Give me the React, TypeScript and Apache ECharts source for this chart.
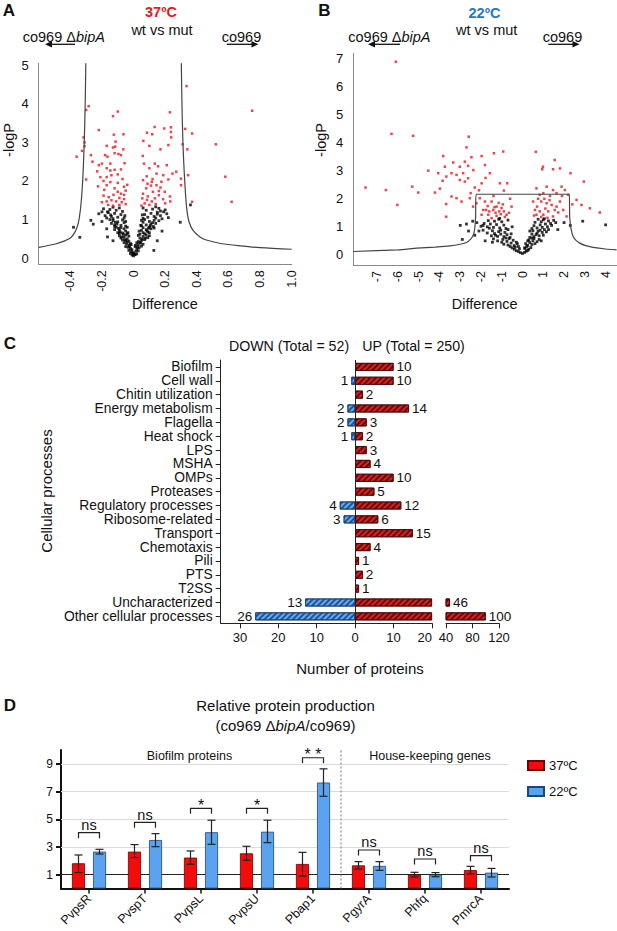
import React, { useEffect, useRef } from "react";
import * as echarts from "echarts";

const FONT = "'Liberation Sans', Arial, Helvetica, sans-serif";

// ---------- Panel A (37ºC volcano) ----------
const aTicksX = [-0.4, -0.2, 0, 0.2, 0.4, 0.6, 0.8, 1.0];
const aTicksY = [0, 1, 2, 3, 4, 5];
const aRed = [
  [0.335, 4.46], [-0.284, 3.94], [-0.3, 3.84], [-0.1, 3.8], [-0.13, 3.68], [0.23, 3.78], [0.75, 3.82], [-0.22, 3.32],
  [0.133, 3.4], [0.194, 3.36], [0.236, 3.39], [0.326, 3.35], [0.085, 3.25], [0.118, 3.21], [-0.064, 3.21], [-0.125, 3.2],
  [0.37, 3.23], [0.236, 3.27], [-0.316, 3.13], [0.238, 3.13], [0.062, 3.04], [-0.114, 3.02], [0.52, 2.95], [-0.31, 3.0],
  [-0.31, 2.9], [-0.17, 2.91], [-0.13, 2.87], [0.1, 2.91], [0.22, 2.93], [0.31, 2.95], [-0.065, 2.82], [0.17, 2.82], [0.34, 2.82],
  [-0.36, 2.63], [-0.326, 2.78], [-0.27, 2.67], [-0.116, 2.89], [-0.18, 2.67], [-0.165, 2.63], [-0.12, 2.72], [-0.096, 2.7],
  [-0.08, 2.67], [-0.22, 2.41], [-0.2, 2.45], [-0.3, 2.04], [-0.147, 2.45], [-0.057, 2.46], [-0.17, 2.33], [-0.147, 2.27],
  [-0.12, 2.29], [-0.21, 2.1], [-0.19, 2.0], [-0.17, 1.89], [-0.225, 1.86], [-0.1, 2.17], [-0.07, 2.05], [-0.147, 1.97],
  [-0.12, 1.81], [-0.06, 1.85], [-0.185, 1.77], [-0.127, 1.64], [-0.1, 1.72], [-0.06, 1.64], [-0.157, 1.58], [-0.09, 1.56],
  [-0.17, 1.47], [-0.11, 1.47], [-0.06, 1.53], [-0.14, 1.5], [-0.08, 1.67],
  [0.058, 2.65], [0.066, 2.45], [0.1, 2.33], [0.134, 2.45], [0.155, 2.38], [0.145, 2.19], [0.083, 2.12], [0.06, 2.02],
  [0.188, 2.15], [0.246, 2.19], [0.3, 2.06], [0.345, 2.15], [0.22, 2.04], [0.21, 2.41], [0.27, 2.24], [0.088, 1.93],
  [0.115, 1.98], [0.145, 1.89], [0.176, 1.98], [0.08, 1.81], [0.122, 1.72], [0.16, 1.74], [0.06, 1.67], [0.09, 1.6],
  [0.197, 1.72], [0.135, 1.55], [0.085, 1.51], [0.055, 1.55], [0.187, 1.53], [0.232, 1.47], [0.115, 1.47], [0.58, 2.11],
  [0.62, 1.46], [0.37, 1.46], [0.3, 1.89], [0.16, 1.63], [0.17, 1.83], [0.11, 1.88], [0.07, 1.42], [0.1, 1.38], [0.14, 1.4],
  [0.2, 1.42], [0.05, 1.36], [0.12, 2.05], [0.23, 1.6],
  [-0.05, 1.4], [-0.09, 1.38], [-0.13, 1.36], [-0.16, 1.38], [-0.2, 1.45], [-0.1, 1.95], [-0.05, 1.75], [-0.23, 2.25],
  [-0.26, 2.5], [-0.14, 2.15], [-0.08, 2.3], [-0.04, 1.9], [-0.17, 2.1], [-0.19, 1.62], [-0.075, 1.45],
];
const aBlack = [
  [0, 0.06], [-0.01, 0.08], [0.01, 0.09], [-0.02, 0.12], [0.02, 0.11], [0, 0.14], [-0.015, 0.17], [0.015, 0.18], [-0.03, 0.2],
  [0.03, 0.19], [0.005, 0.1], [-0.005, 0.13],
  [-0.02, 0.25], [-0.035, 0.28], [-0.05, 0.3], [-0.03, 0.34], [-0.045, 0.37], [-0.06, 0.4], [-0.02, 0.38], [0.02, 0.24],
  [0.035, 0.27], [0.05, 0.31], [0.03, 0.35], [0.06, 0.36], [0.045, 0.39], [0.02, 0.4], [-0.01, 0.22], [0.01, 0.3],
  [-0.03, 0.44], [-0.05, 0.45], [-0.07, 0.47], [-0.04, 0.5], [-0.08, 0.52], [-0.06, 0.55], [-0.09, 0.58], [-0.03, 0.57],
  [-0.05, 0.6], [0.03, 0.43], [0.05, 0.46], [0.07, 0.48], [0.04, 0.52], [0.09, 0.53], [0.06, 0.56], [0.08, 0.6], [0.03, 0.59], [0.1, 0.58],
  [-0.04, 0.63], [-0.07, 0.65], [-0.1, 0.66], [-0.05, 0.7], [-0.09, 0.72], [-0.12, 0.74], [-0.06, 0.76], [-0.08, 0.79],
  [-0.11, 0.8], [0.04, 0.62], [0.06, 0.66], [0.09, 0.68], [0.05, 0.72], [0.08, 0.74], [0.11, 0.76], [0.06, 0.79], [0.1, 0.8], [0.13, 0.78],
  [-0.05, 0.83], [-0.08, 0.85], [-0.12, 0.86], [-0.14, 0.9], [-0.06, 0.92], [-0.1, 0.94], [-0.13, 0.97], [-0.07, 0.99],
  [-0.15, 1.0], [0.05, 0.84], [0.08, 0.86], [0.11, 0.88], [0.14, 0.9], [0.06, 0.93], [0.1, 0.95], [0.13, 0.98], [0.07, 1.0], [0.16, 0.97],
  [-0.06, 1.04], [-0.1, 1.06], [-0.14, 1.08], [-0.18, 1.1], [-0.08, 1.13], [-0.12, 1.16], [-0.16, 1.18], [-0.07, 1.21],
  [-0.11, 1.24], [-0.15, 1.26], [-0.19, 1.28], [-0.09, 1.3], [0.06, 1.03], [0.09, 1.06], [0.13, 1.08], [0.17, 1.1], [0.07, 1.13],
  [0.11, 1.16], [0.15, 1.19], [0.19, 1.2], [0.08, 1.24], [0.12, 1.27], [0.16, 1.29], [0.06, 1.3], [0.2, 1.25],
  [-0.025, 0.3], [0.025, 0.29], [-0.04, 0.42], [0.04, 0.41], [-0.055, 0.48], [0.055, 0.49], [-0.065, 0.62], [0.07, 0.63],
  [-0.085, 0.68], [0.085, 0.71], [-0.095, 0.77], [0.095, 0.78], [-0.105, 0.88], [0.105, 0.84], [-0.115, 0.93], [0.12, 0.92],
  [-0.13, 1.02], [0.14, 1.04], [-0.145, 1.12], [0.15, 1.14], [-0.165, 1.2], [0.17, 1.22], [-0.13, 1.32], [0.14, 1.33],
  [-0.04, 0.8], [0.045, 0.85], [-0.035, 0.66], [0.035, 0.7], [-0.05, 0.95], [0.05, 0.98], [-0.055, 1.1], [0.055, 1.12],
  [-0.075, 0.55], [0.075, 0.52], [-0.015, 0.35], [0.012, 0.33], [-0.09, 0.64], [0.1, 0.66], [-0.12, 0.82], [0.125, 0.82],
  [-0.17, 1.04], [0.18, 1.02], [-0.2, 1.2], [0.21, 1.15],
  [-0.38, 0.8], [-0.34, 0.54], [-0.27, 0.98], [-0.255, 0.88], [0.295, 0.93], [0.36, 1.38], [0.128, 0.2], [-0.17, 0.76],
  [-0.165, 0.55], [-0.2, 0.95], [0.18, 0.7], [0.15, 0.45], [-0.13, 0.45], [0.22, 1.05], [-0.22, 1.15],
];
const aCurveLeft = [
  [-0.6, 0.28], [-0.5, 0.36], [-0.44, 0.44], [-0.4, 0.52], [-0.37, 0.68], [-0.35, 0.9], [-0.335, 1.3], [-0.322, 2.0],
  [-0.312, 3.0], [-0.306, 4.0], [-0.302, 5.05],
];
const aCurveRight = [
  [0.302, 5.05], [0.306, 4.0], [0.312, 3.0], [0.322, 2.1], [0.335, 1.33], [0.35, 0.95], [0.376, 0.72], [0.42, 0.55],
  [0.46, 0.47], [0.55, 0.38], [0.63, 0.34], [0.8, 0.27], [1.0, 0.23],
];

// ---------- Panel B (22ºC volcano) ----------
const bTicksX = [-7, -6, -5, -4, -3, -2, -1, 0, 1, 2, 3, 4];
const bTicksY = [0, 1, 2, 3, 4, 5, 6, 7];
const bRed = [
  [-6.1, 6.88], [-6.31, 4.31], [-5.27, 4.24], [-2.59, 4.21], [-2.7, 3.83], [-3.82, 3.52], [-2.46, 3.48], [-1.97, 3.52],
  [-1.38, 3.62], [-0.93, 3.68], [0.64, 3.67], [1.55, 3.38], [0.98, 3.14], [0.95, 3.05], [-4.54, 3.0], [-3.74, 3.14],
  [-3.34, 3.29], [-3.02, 3.14], [-2.78, 3.32], [-2.62, 3.17], [-2.37, 3.02], [-2.86, 2.91], [-3.18, 2.85], [-3.42, 2.91],
  [-3.67, 2.79], [-4.06, 2.91], [-3.85, 2.64], [-3.02, 2.67], [-2.78, 2.61], [-2.62, 2.73], [-1.81, 3.2], [-1.57, 2.91],
  [-1.78, 2.74], [-1.97, 2.55], [-1.09, 2.55], [-0.74, 2.55], [-0.9, 2.29], [-7.56, 2.4], [-6.58, 2.31], [-5.31, 2.43],
  [-5.02, 2.22], [-4.22, 2.22], [-3.98, 2.36], [-6.03, 1.78], [-3.68, 1.81], [-3.68, 1.36], [-3.42, 2.08], [-3.18, 2.02],
  [-2.94, 1.9], [-2.54, 2.02], [-2.38, 1.72], [-2.22, 1.84], [-2.06, 2.02], [-1.81, 1.9], [-1.68, 1.74], [-1.49, 1.9],
  [-1.41, 1.6], [-1.25, 1.72], [-1.12, 1.55], [-1.01, 1.67], [-0.9, 1.55], [-0.77, 1.43], [-1.65, 1.43], [-1.25, 1.39],
  [-1.49, 1.31], [-0.53, 1.72], [-1.89, 1.6], [-1.97, 1.43],
  [-1.3, 1.5], [-1.05, 1.45], [-0.95, 1.8], [-1.15, 1.85], [-1.6, 1.55], [-1.75, 1.6], [-0.65, 1.5], [-1.4, 2.1],
  [-2.1, 2.3], [-2.3, 2.4], [-2.5, 2.2], [-0.6, 2.0], [-0.85, 1.35], [-1.35, 1.7],
  [1.47, 3.05], [1.8, 3.08], [2.31, 2.91], [2.95, 2.61], [3.24, 1.66], [3.72, 1.51], [2.6, 1.96], [2.84, 1.78], [0.67, 2.37],
  [1.16, 2.43], [1.47, 2.31], [1.88, 2.43], [2.04, 2.31], [2.2, 2.14], [0.83, 2.14], [1.0, 2.2], [1.32, 2.1], [1.64, 2.2],
  [0.51, 1.9], [0.7, 1.72], [0.9, 1.9], [1.16, 1.84], [1.4, 1.78], [1.64, 1.72], [1.8, 1.9], [1.96, 1.6], [0.83, 1.55],
  [1.0, 1.43], [1.24, 1.55], [1.47, 1.37], [0.67, 1.43], [1.72, 1.51], [2.12, 1.37], [0.6, 1.6], [1.1, 1.65], [1.3, 1.95],
  [0.9, 1.35], [1.55, 1.6], [1.2, 1.32], [0.75, 2.0], [1.9, 2.1], [2.4, 1.8], [1.05, 2.0], [0.55, 1.4],
];
const bBlack = [
  [0, 0.05], [-0.1, 0.08], [0.1, 0.09], [-0.2, 0.12], [0.18, 0.13], [-0.3, 0.15], [0.25, 0.16], [-0.4, 0.2], [0.3, 0.2],
  [-0.15, 0.22], [0.12, 0.23], [-0.5, 0.25], [0.4, 0.26], [-0.35, 0.28], [0.2, 0.3], [-0.6, 0.3],
  [-0.4, 0.33], [-0.7, 0.35], [-0.9, 0.38], [-0.55, 0.42], [-1.0, 0.45], [-0.75, 0.48], [-1.2, 0.5], [-0.45, 0.52],
  [-0.95, 0.55], [-1.4, 0.57], [-0.65, 0.58], [0.25, 0.34], [0.45, 0.37], [0.6, 0.4], [0.35, 0.44], [0.7, 0.47], [0.5, 0.5],
  [0.3, 0.53], [0.8, 0.55], [0.55, 0.58],
  [-0.6, 0.62], [-0.9, 0.65], [-1.2, 0.66], [-1.5, 0.68], [-0.75, 0.72], [-1.05, 0.74], [-1.35, 0.76], [-1.7, 0.78],
  [-0.85, 0.8], [-1.15, 0.83], [-1.45, 0.86], [-1.9, 0.88], [-0.7, 0.9], [0.35, 0.62], [0.55, 0.65], [0.8, 0.68], [1.0, 0.7],
  [0.45, 0.74], [0.7, 0.77], [0.95, 0.8], [1.15, 0.82], [0.5, 0.86], [0.85, 0.88], [1.05, 0.9],
  [-0.8, 0.94], [-1.1, 0.96], [-1.4, 0.98], [-1.7, 1.0], [-2.0, 1.02], [-0.9, 1.06], [-1.25, 1.08], [-1.55, 1.1],
  [-1.85, 1.12], [-2.2, 1.15], [-1.0, 1.18], [-1.35, 1.2], [-1.65, 1.22], [-0.7, 1.24], [-1.15, 1.27], [-2.4, 1.2],
  [0.45, 0.94], [0.7, 0.96], [0.95, 0.98], [1.2, 1.0], [0.55, 1.04], [0.85, 1.07], [1.1, 1.1], [1.35, 1.12], [0.6, 1.16],
  [0.9, 1.18], [1.25, 1.21], [1.5, 1.23], [0.75, 1.27], [1.05, 1.29],
  [-0.25, 0.4], [0.15, 0.4], [-0.8, 0.6], [0.45, 0.6], [-1.3, 0.7], [0.65, 0.72], [-1.6, 0.95], [0.75, 0.85], [-1.05, 0.88],
  [1.25, 0.9], [-1.9, 1.05], [1.4, 1.05], [-0.55, 0.75], [0.25, 0.5], [-0.3, 0.45], [-1.1, 1.3], [1.0, 1.25], [-0.5, 1.0],
  [0.35, 0.85], [-2.1, 0.85], [1.6, 1.15], [-0.2, 0.3], [0.1, 0.25], [-1.45, 0.45], [0.9, 0.5],
  [-2.9, 0.55], [-2.6, 0.85], [-2.3, 0.7], [2.9, 1.2], [4.0, 1.07], [2.3, 1.05], [-1.8, 0.5], [-3.0, 1.05], [2.0, 1.15],
  [1.7, 0.9], [-2.7, 1.1],
];
const bCurve = [
  [-8.15, 0.12], [-6, 0.18], [-5.1, 0.24], [-4.2, 0.28], [-3.5, 0.32], [-3.0, 0.38], [-2.7, 0.44], [-2.5, 0.56],
  [-2.37, 0.71], [-2.3, 0.95], [-2.26, 1.36], [-2.24, 2.16], [2.25, 2.16], [2.27, 1.36], [2.33, 0.95], [2.44, 0.65],
  [2.6, 0.5], [2.76, 0.42], [3.0, 0.34], [3.4, 0.27], [4.0, 0.21], [4.53, 0.18],
];

// ---------- Panel C (cellular processes) ----------
const processes = [
  "Biofilm", "Cell wall", "Chitin utilization", "Energy metabolism", "Flagella", "Heat shock", "LPS", "MSHA", "OMPs",
  "Proteases", "Regulatory processes", "Ribosome-related", "Transport", "Chemotaxis", "Pili", "PTS", "T2SS",
  "Uncharacterized", "Other cellular processes",
];
const upCounts = [10, 10, 2, 14, 3, 2, 3, 4, 10, 5, 12, 6, 15, 4, 1, 2, 1, 46, 100];
const downCounts = [0, 1, 0, 2, 2, 1, 0, 0, 0, 0, 4, 3, 0, 0, 0, 0, 0, 13, 26];
const cTicksLeft = [-30, -20, -10, 0, 10, 20];
const cTicksRight = [40, 80, 120];

// ---------- Panel D (relative protein production) ----------
const promoters = ["PvpsR", "PvspT", "PvpsL", "PvpsU", "Pbap1", "PgyrA", "Phfq", "PmrcA"];
const mean37 = [1.82, 2.66, 2.23, 2.54, 1.77, 1.67, 1.0, 1.33];
const low37 = [1.15, 2.23, 1.75, 2.04, 0.9, 1.41, 0.83, 1.05];
const high37 = [2.42, 3.17, 2.71, 3.05, 2.61, 1.94, 1.17, 1.6];
const mean22 = [2.66, 3.5, 4.06, 4.1, 7.65, 1.63, 1.0, 1.14];
const low22 = [2.49, 3.02, 3.19, 3.31, 6.66, 1.31, 0.85, 0.83];
const high22 = [2.83, 3.96, 4.93, 4.93, 8.64, 1.94, 1.15, 1.45];
const sigLabels = ["ns", "ns", "*", "*", "**", "ns", "ns", "ns"];
const sigHeights = [4.03, 4.78, 5.79, 5.79, 9.44, 2.78, 2.13, 2.37];
const dTicksY = [1, 3, 5, 7, 9];
const dGridLines = [3, 5, 7, 9];
const dReference = 1;

function buildOption() {
  const txt = (x: number, y: number, text: string, extra: any = {}, rotation = 0) => ({
    type: "text",
    x,
    y,
    rotation,
    silent: true,
    style: {
      text,
      fontFamily: FONT,
      fontSize: 14.5,
      fill: "#111",
      align: "center",
      verticalAlign: "middle",
      ...extra,
    },
  });
  const arrow = (x1: number, x2: number, y: number) => {
    const dir = x2 > x1 ? 1 : -1;
    const tip = x2 + dir * 4;
    return [
      { type: "line", silent: true, shape: { x1, y1: y, x2, y2: y }, style: { stroke: "#111", lineWidth: 1.3 } },
      {
        type: "polygon",
        silent: true,
        shape: { points: [[tip, y], [tip - dir * 7, y - 3.2], [tip - dir * 7, y + 3.2]] },
        style: { fill: "#111" },
      },
    ];
  };
  const richMut = {
    a: { fontSize: 14.5, fontFamily: FONT, fill: "#111" },
    b: { fontSize: 14.5, fontFamily: FONT, fill: "#111", fontStyle: "italic" },
  };

  const volcanoX = (gridIndex: number, min: number, max: number, ticks: number[], fmt: (v: number) => string) => ({
    gridIndex,
    type: "value",
    min,
    max,
    axisLine: { show: true, onZero: false, lineStyle: { color: "#888", width: 1 } },
    axisTick: { show: false },
    splitLine: { show: false },
    axisLabel: { customValues: ticks, rotate: 90, fontSize: 12.5, color: "#111", margin: 6, fontFamily: FONT, formatter: fmt },
  });
  const volcanoY = (gridIndex: number, min: number, max: number, ticks: number[]) => ({
    gridIndex,
    type: "value",
    min,
    max,
    axisLine: { show: true, onZero: false, lineStyle: { color: "#888", width: 1 } },
    axisTick: { show: false },
    splitLine: { show: false },
    axisLabel: { customValues: ticks, fontSize: 13, color: "#111", margin: 10, fontFamily: FONT },
  });

  const redHatch = {
    symbol: "rect",
    symbolSize: 1,
    dashArrayX: [1, 0],
    dashArrayY: [1.3, 1.7],
    rotation: -Math.PI / 4,
    color: "rgba(90,0,0,0.85)",
  };
  const blueHatch = { ...redHatch, color: "rgba(20,70,140,0.85)" };
  const redBarStyle = { color: "#d42424", borderColor: "#4a0808", borderWidth: 0.8, decal: redHatch };
  const blueBarStyle = { color: "#63aaf0", borderColor: "#1c3c66", borderWidth: 0.8, decal: blueHatch };
  const cLabel = { fontSize: 13.5, color: "#111", fontFamily: FONT, distance: 3, lineHeight: 12 };

  const cValueX = (gridIndex: number, min: number, max: number, ticks: number[], extraLabel: any = {}) => ({
    gridIndex,
    type: "value",
    min,
    max,
    axisLine: { show: true, onZero: false, lineStyle: { color: "#222", width: 1 } },
    axisTick: { show: true, customValues: ticks, length: 5, lineStyle: { color: "#222" } },
    splitLine: { show: false },
    axisLabel: {
      customValues: ticks,
      fontSize: 13,
      color: "#111",
      margin: 8,
      fontFamily: FONT,
      formatter: (v: number) => String(Math.abs(v)),
      ...extraLabel,
    },
  });

  const errData: number[][] = [];
  promoters.forEach((_, i) => {
    errData.push([i, low37[i], high37[i], -1]);
    errData.push([i, low22[i], high22[i], 1]);
  });
  const half = 10.5;

  return {
    animation: false,
    backgroundColor: "#ffffff",
    textStyle: { fontFamily: FONT },
    grid: [
      { left: 38.7, top: 63.3, width: 253, height: 201, outerBoundsMode: "none" },
      { left: 353.3, top: 53.3, width: 263.3, height: 211.7, outerBoundsMode: "none" },
      { left: 220.7, top: 360, width: 211.3, height: 263.3, outerBoundsMode: "none" },
      { left: 446, top: 360, width: 53, height: 263.3, outerBoundsMode: "none" },
      { left: 61, top: 750, width: 448, height: 138.5, outerBoundsMode: "none" },
    ],
    xAxis: [
      volcanoX(0, -0.6, 1.0, aTicksX, (v: number) => (v === 0 ? "0" : v.toFixed(1))),
      volcanoX(1, -8.15, 4.53, bTicksX, (v: number) => String(v)),
      cValueX(2, -35, 20, cTicksLeft, { alignMaxLabel: "right" }),
      cValueX(3, 40, 120, cTicksRight),
      {
        gridIndex: 4,
        type: "category",
        data: promoters,
        axisLine: { show: true, onZero: false, lineStyle: { color: "#111", width: 2 } },
        axisTick: { show: true, alignWithLabel: true, length: 5, lineStyle: { color: "#111", width: 1.5 } },
        axisLabel: { rotate: 45, fontSize: 12.5, color: "#111", margin: 8, interval: 0, fontFamily: FONT },
        splitLine: { show: false },
      },
    ],
    yAxis: [
      volcanoY(0, -0.16, 5.05, aTicksY),
      volcanoY(1, -0.36, 7.18, bTicksY),
      {
        gridIndex: 2,
        type: "category",
        data: processes,
        inverse: true,
        axisLine: { show: true, onZero: false, lineStyle: { color: "#222", width: 1 } },
        axisTick: { show: true, alignWithLabel: true, length: 5, lineStyle: { color: "#222" } },
        axisLabel: { fontSize: 13.8, lineHeight: 12, color: "#111", margin: 8, interval: 0, fontFamily: FONT },
        splitLine: { show: false },
      },
      { gridIndex: 3, type: "category", data: processes, inverse: true, show: false },
      {
        gridIndex: 4,
        type: "value",
        min: 0,
        max: 10,
        axisLine: { show: true, onZero: false, lineStyle: { color: "#111", width: 2 } },
        axisTick: { show: true, customValues: dTicksY, length: 5, lineStyle: { color: "#111", width: 2 } },
        splitLine: { show: false },
        axisLabel: { customValues: dTicksY, fontSize: 12, color: "#111", margin: 8, fontFamily: FONT },
      },
    ],
    legend: {
      data: ["37ºC", "22ºC"],
      orient: "vertical",
      left: 522,
      top: 754,
      icon: "rect",
      itemWidth: 16,
      itemHeight: 9,
      itemGap: 13,
      selectedMode: false,
      textStyle: { fontSize: 13, color: "#111", fontFamily: FONT },
    },
    graphic: [
      // Panel A texts
      txt(9, 10, "A", { fontSize: 17, fontWeight: "bold" }),
      txt(161, 12, "37ºC", { fontWeight: "bold", fill: "#e41a1c" }),
      txt(162, 29.5, "wt vs mut"),
      txt(22.7, 37, "{a|co969 Δ}{b|bipA}", { align: "left", rich: richMut }),
      ...arrow(75, 49, 44.3),
      txt(221.7, 37, "co969", { align: "left" }),
      ...arrow(226.7, 254.5, 44.3),
      txt(9, 140, "-logP", {}, Math.PI / 2),
      txt(165, 304, "Difference"),
      // Panel B texts
      txt(324.5, 10, "B", { fontSize: 17, fontWeight: "bold" }),
      txt(484.5, 12.5, "22ºC", { fontWeight: "bold", fill: "#1f78c8" }),
      txt(486.7, 29.5, "wt vs mut"),
      txt(348.3, 37, "{a|co969 Δ}{b|bipA}", { align: "left", rich: richMut }),
      ...arrow(400, 372, 44.3),
      txt(542.7, 37, "co969", { align: "left" }),
      ...arrow(548.3, 575.5, 44.3),
      txt(321, 140, "-logP", {}, Math.PI / 2),
      txt(484.7, 304, "Difference"),
      // Panel C texts
      txt(10, 343, "C", { fontSize: 17, fontWeight: "bold" }),
      txt(289, 346, "DOWN (Total = 52)", { fontSize: 14.2 }),
      txt(413.5, 346, "UP (Total = 250)", { fontSize: 14.2 }),
      txt(46, 491, "Cellular processes", { fontSize: 15 }, Math.PI / 2),
      txt(360, 668, "Number of proteins", { fontSize: 15 }),
      // Panel D texts
      txt(10, 705, "D", { fontSize: 17, fontWeight: "bold" }),
      txt(285.5, 705.7, "Relative protein production", { fontSize: 15 }),
      txt(285.5, 725.7, "{a|(co969 Δ}{b|bipA}{a|/co969)}", {
        rich: {
          a: { fontSize: 15, fontFamily: FONT, fill: "#111" },
          b: { fontSize: 15, fontFamily: FONT, fill: "#111", fontStyle: "italic" },
        },
      }),
      txt(189.5, 756, "Biofilm proteins", { fontSize: 12.5 }),
      txt(430, 756, "House-keeping genes", { fontSize: 12.5 }),
    ],
    series: [
      // ---- Panel A ----
      {
        name: "A curve L",
        type: "line",
        xAxisIndex: 0,
        yAxisIndex: 0,
        data: aCurveLeft,
        showSymbol: false,
        smooth: 0.3,
        lineStyle: { color: "#444", width: 1.2 },
        silent: true,
      },
      {
        name: "A curve R",
        type: "line",
        xAxisIndex: 0,
        yAxisIndex: 0,
        data: aCurveRight,
        showSymbol: false,
        smooth: 0.3,
        lineStyle: { color: "#444", width: 1.2 },
        silent: true,
      },
      {
        name: "A ns",
        type: "scatter",
        xAxisIndex: 0,
        yAxisIndex: 0,
        data: aBlack,
        symbol: "rect",
        symbolSize: 2.8,
        itemStyle: { color: "#000" },
        silent: true,
      },
      {
        name: "A sig",
        type: "scatter",
        xAxisIndex: 0,
        yAxisIndex: 0,
        data: aRed,
        symbol: "rect",
        symbolSize: 2.5,
        itemStyle: { color: "#e8141c" },
        silent: true,
      },
      // ---- Panel B ----
      {
        name: "B curve",
        type: "line",
        xAxisIndex: 1,
        yAxisIndex: 1,
        data: bCurve,
        showSymbol: false,
        smooth: 0.2,
        lineStyle: { color: "#444", width: 1.2 },
        silent: true,
      },
      {
        name: "B ns",
        type: "scatter",
        xAxisIndex: 1,
        yAxisIndex: 1,
        data: bBlack,
        symbol: "rect",
        symbolSize: 2.8,
        itemStyle: { color: "#000" },
        silent: true,
      },
      {
        name: "B sig",
        type: "scatter",
        xAxisIndex: 1,
        yAxisIndex: 1,
        data: bRed,
        symbol: "rect",
        symbolSize: 2.5,
        itemStyle: { color: "#e8141c" },
        silent: true,
      },
      // ---- Panel C ----
      {
        name: "UP",
        type: "bar",
        xAxisIndex: 2,
        yAxisIndex: 2,
        barWidth: 8,
        barGap: "-100%",
        data: upCounts.map((v) => Math.min(v, 20)),
        itemStyle: redBarStyle,
        label: {
          show: true,
          position: "right",
          ...cLabel,
          formatter: (p: any) => (upCounts[p.dataIndex] <= 20 ? String(upCounts[p.dataIndex]) : ""),
        },
        markLine: {
          silent: true,
          symbol: ["none", "none"],
          label: { show: false },
          lineStyle: { color: "#222", width: 1, type: "solid" },
          data: [{ xAxis: 0 }],
        },
      },
      {
        name: "DOWN",
        type: "bar",
        xAxisIndex: 2,
        yAxisIndex: 2,
        barWidth: 8,
        barGap: "-100%",
        data: downCounts.map((v) => (v > 0 ? -v : "-")),
        itemStyle: blueBarStyle,
        label: { show: true, position: "left", ...cLabel, formatter: (p: any) => String(Math.abs(p.value)) },
      },
      {
        name: "UP broken",
        type: "bar",
        xAxisIndex: 3,
        yAxisIndex: 3,
        barWidth: 8,
        data: upCounts.map((v) => (v > 20 ? v : "-")),
        itemStyle: redBarStyle,
        label: { show: true, position: "right", ...cLabel, formatter: (p: any) => String(p.value) },
      },
      // ---- Panel D ----
      {
        name: "37ºC",
        type: "bar",
        xAxisIndex: 4,
        yAxisIndex: 4,
        barWidth: 13,
        barGap: "62%",
        data: mean37,
        itemStyle: { color: "#f40c0c", borderColor: "#6a0000", borderWidth: 0.8 },
        markLine: {
          silent: true,
          symbol: ["none", "none"],
          label: { show: false },
          z: 1,
          data: [
            ...dGridLines.map((v) => ({ yAxis: v, lineStyle: { color: "#dcdcdc", width: 1, type: "solid" } })),
            { yAxis: dReference, lineStyle: { color: "#222", width: 1, type: "solid" } },
          ],
        },
      },
      {
        name: "22ºC",
        type: "bar",
        xAxisIndex: 4,
        yAxisIndex: 4,
        barWidth: 13,
        barGap: "62%",
        data: mean22,
        itemStyle: { color: "#5ba3f0", borderColor: "#23446e", borderWidth: 0.8 },
      },
      {
        name: "errors",
        type: "custom",
        xAxisIndex: 4,
        yAxisIndex: 4,
        z: 5,
        silent: true,
        data: errData,
        renderItem: (params: any, api: any) => {
          const i = api.value(0);
          const side = api.value(3);
          const pLo = api.coord([i, api.value(1)]);
          const pHi = api.coord([i, api.value(2)]);
          const x = pLo[0] + side * half;
          const st = { stroke: "#222", lineWidth: 1.2 };
          return {
            type: "group",
            children: [
              { type: "line", shape: { x1: x, y1: pLo[1], x2: x, y2: pHi[1] }, style: st },
              { type: "line", shape: { x1: x - 4, y1: pHi[1], x2: x + 4, y2: pHi[1] }, style: st },
              { type: "line", shape: { x1: x - 4, y1: pLo[1], x2: x + 4, y2: pLo[1] }, style: st },
            ],
          };
        },
      },
      {
        name: "brackets",
        type: "custom",
        xAxisIndex: 4,
        yAxisIndex: 4,
        z: 5,
        silent: true,
        data: promoters.map((_, i) => [i, sigHeights[i]]),
        renderItem: (params: any, api: any) => {
          const i = api.value(0);
          const p = api.coord([i, api.value(1)]);
          const x1 = p[0] - half;
          const x2 = p[0] + half;
          const y = p[1];
          const lab = sigLabels[params.dataIndex];
          const star = lab.indexOf("*") >= 0;
          return {
            type: "group",
            children: [
              {
                type: "polyline",
                shape: { points: [[x1, y + 5.5], [x1, y], [x2, y], [x2, y + 5.5]] },
                style: { stroke: "#222", lineWidth: 1.2, fill: "none" },
              },
              {
                type: "text",
                x: p[0],
                y: star ? y - 3 : y - 7.5,
                style: {
                  text: star ? lab.split("").join(" ") : lab,
                  fontSize: star ? 16 : 14.5,
                  fontFamily: FONT,
                  fill: "#111",
                  align: "center",
                  verticalAlign: "middle",
                },
              },
            ],
          };
        },
      },
      {
        name: "separator",
        type: "custom",
        xAxisIndex: 4,
        yAxisIndex: 4,
        z: 4,
        silent: true,
        data: [[4, 0, 10]],
        renderItem: (params: any, api: any) => {
          const bw = api.size([1, 0])[0];
          const p0 = api.coord([api.value(0), api.value(1)]);
          const p1 = api.coord([api.value(0), api.value(2)]);
          const x = p0[0] + bw / 2;
          return {
            type: "line",
            shape: { x1: x, y1: p0[1], x2: x, y2: p1[1] },
            style: { stroke: "#777", lineWidth: 1, lineDash: [2, 2] },
          };
        },
      },
    ],
  };
}

export default function App() {
  const ref = useRef<HTMLDivElement>(null);
  useEffect(() => {
    if (!ref.current) return;
    const chart = echarts.init(ref.current, null, { renderer: "svg" });
    chart.setOption(buildOption() as any);
    return () => chart.dispose();
  }, []);
  return (
    <div
      ref={ref}
      style={{ position: "absolute", left: 0, top: 0, width: 617, height: 931, background: "#fff" }}
    />
  );
}
